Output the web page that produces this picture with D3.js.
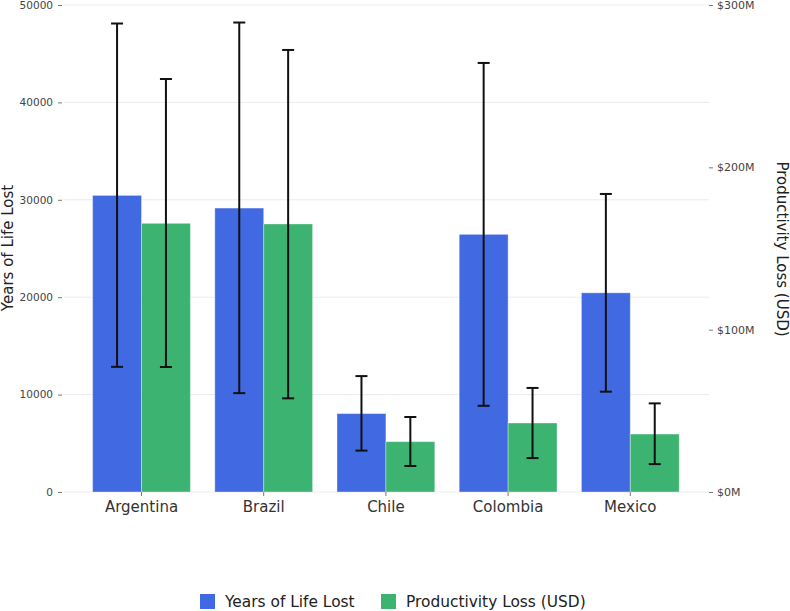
<!doctype html>
<html>
  <head>
    <meta charset="utf-8">
    <title>Years of life lost and productivity loss</title>
    <script src="https://cdnjs.cloudflare.com/ajax/libs/d3/7.8.5/d3.min.js"></script>
    <style>
      body { margin: 0; background: #fff; font-family: "DejaVu Sans", sans-serif; }
    </style>
  </head>
  <body>
    <div id="chart"></div>
    <script>
      // data
      const countries = ['Argentina', 'Brazil', 'Chile', 'Colombia', 'Mexico'];
      const yll     = [30450, 29150, 8050, 26450, 20450];
      const yllLow  = [12850, 10150, 4250, 8850, 10300];
      const yllHigh = [48100, 48200, 11900, 44050, 30600];
      // productivity loss, millions of USD
      const prod     = [165.5, 165.1, 31.0, 42.5, 35.7];
      const prodLow  = [77.0, 57.7, 16.0, 20.9, 17.2];
      const prodHigh = [254.4, 272.3, 46.2, 64.1, 54.6];
      const seriesNames = ['Years of Life Lost', 'Productivity Loss (USD)'];
      const leftTicks = [0, 10000, 20000, 30000, 40000, 50000];
      const rightTicks = [0, 100, 200, 300];

      const colors = ['#4169E1', '#3CB371'];
      const W = 790, H = 611;

      const svg = d3.select('#chart').append('svg')
        .attr('width', W).attr('height', H);

      const x = d3.scaleBand().domain(countries).range([80.4, 691.4])
        .paddingInner(0.2).paddingOuter(0.1);
      const xs = d3.scaleBand().domain([0, 1]).range([0, x.bandwidth()]);
      const yL = d3.scaleLinear().domain([0, 50000]).range([492, 5]);
      const yR = d3.scaleLinear().domain([0, 300]).range([492, 5]);

      // gridlines
      svg.append('g').selectAll('line').data(leftTicks).join('line')
        .attr('x1', 63).attr('x2', 709)
        .attr('y1', d => yL(d)).attr('y2', d => yL(d))
        .attr('stroke', '#ebebeb').attr('stroke-width', 1);

      // bars
      const rows = countries.map((c, i) => [
        {c, s: 0, v: yll[i], lo: yllLow[i], hi: yllHigh[i], y: yL},
        {c, s: 1, v: prod[i], lo: prodLow[i], hi: prodHigh[i], y: yR}
      ]).flat();

      svg.append('g').selectAll('rect').data(rows).join('rect')
        .attr('x', d => x(d.c) + xs(d.s))
        .attr('width', xs.bandwidth())
        .attr('y', d => d.y(d.v))
        .attr('height', d => d.y(0) - d.y(d.v))
        .attr('fill', d => colors[d.s])
        .attr('stroke', 'rgba(255,255,255,0.35)')
        .attr('stroke-width', 1);

      // error bars
      const eb = svg.append('g').attr('stroke', '#111').attr('stroke-width', 2);
      rows.forEach(d => {
        const cx = x(d.c) + xs(d.s) + xs.bandwidth() / 2;
        eb.append('line').attr('x1', cx).attr('x2', cx)
          .attr('y1', d.y(d.lo)).attr('y2', d.y(d.hi));
        [d.lo, d.hi].forEach(v => {
          eb.append('line').attr('x1', cx - 6).attr('x2', cx + 6)
            .attr('y1', d.y(v)).attr('y2', d.y(v));
        });
      });

      // axes
      const leftAxis = svg.append('g').attr('transform', 'translate(62,0)')
        .call(d3.axisLeft(yL).tickValues(leftTicks).tickSize(4).tickPadding(5).tickFormat(d3.format('d')));
      const rightAxis = svg.append('g').attr('transform', 'translate(709,0)')
        .call(d3.axisRight(yR).tickValues(rightTicks).tickSize(4).tickPadding(4).tickFormat(d => '$' + d + 'M'));
      const bottomAxis = svg.append('g').attr('transform', 'translate(0,492)')
        .call(d3.axisBottom(x).tickSize(4).tickPadding(5));

      [leftAxis, rightAxis, bottomAxis].forEach(a => {
        a.select('.domain').remove();
        a.selectAll('.tick line').attr('stroke', '#777');
        a.selectAll('text').attr('font-family', 'DejaVu Sans').attr('fill', '#444');
      });
      leftAxis.selectAll('text').attr('font-size', 10.5);
      rightAxis.selectAll('text').attr('font-size', 11);
      bottomAxis.selectAll('text').attr('font-size', 15).attr('fill', '#333');

      // axis titles
      svg.append('text')
        .attr('transform', 'translate(13,248) rotate(-90)')
        .attr('text-anchor', 'middle')
        .attr('font-size', 15).attr('fill', '#222')
        .text(seriesNames[0]);
      svg.append('text')
        .attr('transform', 'translate(777,249) rotate(90)')
        .attr('text-anchor', 'middle')
        .attr('font-size', 15).attr('fill', '#222')
        .text('Productivity Loss (USD)');

      // legend
      const legX = [200, 381];
      const leg = svg.append('g').selectAll('g').data(seriesNames).join('g')
        .attr('transform', (d, i) => `translate(${legX[i]},594)`);
      leg.append('rect').attr('width', 15).attr('height', 15)
        .attr('fill', (d, i) => colors[i]);
      leg.append('text').attr('x', 25).attr('y', 13)
        .attr('font-size', 15.4).attr('fill', '#222')
        .text(d => d);
    </script>
  </body>
</html>
